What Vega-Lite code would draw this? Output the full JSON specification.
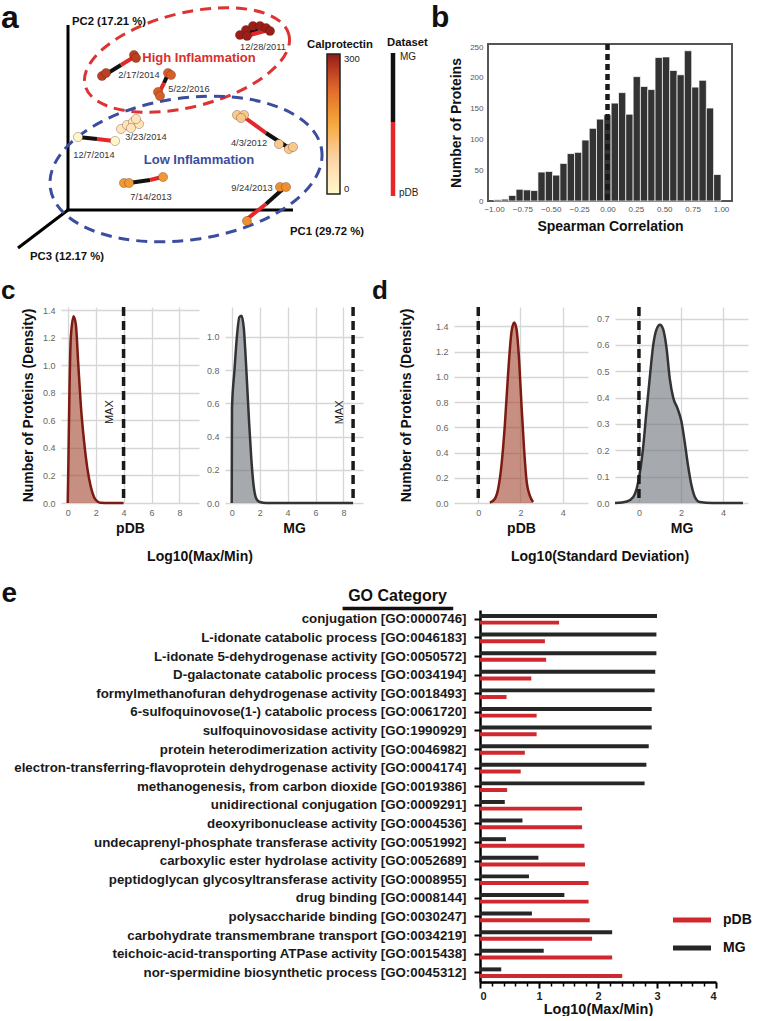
{
"$schema": "https://vega.github.io/schema/vega-lite/v6.json",
"padding": 0,
"background": "white",
"spacing": 15,
"resolve": {"scale": {"color": "independent"}, "legend": {"color": "independent"}},
"config": {"font": "Liberation Sans", "view": {"stroke": null}, "axis": {"labelFont": "Liberation Sans", "titleFont": "Liberation Sans", "titleFontWeight": "bold", "titleColor": "#111", "tickCount": 50, "labelOverlap": false}, "title": {"font": "Liberation Sans", "color": "#111", "fontWeight": "bold"}},
"vconcat": [
{"spacing": 0, "resolve": {"scale": {"color": "independent"}, "legend": {"color": "independent"}}, "hconcat": [
{"width": 430, "height": 262,
 "layer": [
  {"data": {"values": [{"x":68,"y":25,"x2":68,"y2":210},{"x":66.5,"y":210,"x2":293,"y2":210},{"x":68,"y":210,"x2":18,"y2":248}]},
   "mark": {"type":"rule","color":"#000","strokeWidth":3},
   "encoding": {"x":{"field":"x","type":"quantitative","scale":{"domain":[0,430],"nice":false,"zero":false},"axis":null},"y":{"field":"y","type":"quantitative","scale":{"domain":[0,262],"nice":false,"zero":false,"reverse":true},"axis":null},"x2":{"field":"x2"},"y2":{"field":"y2"}}},
  {"data": {"values": [{"grp":"High","x":187,"y":60}]},
   "mark": {"type":"point","shape":"M 1 0 C 1 0.2474 0.5523 0.448 0 0.448 C -0.5523 0.448 -1 0.2474 -1 0 C -1 -0.2474 -0.5523 -0.448 0 -0.448 C 0.5523 -0.448 1 -0.2474 1 0 Z","size":44100,"angle":-14,"filled":false,"color":"#dd3333","strokeWidth":3,"strokeDash":[11,7],"opacity":1},
   "encoding": {"x":{"field":"x","type":"quantitative"},"y":{"field":"y","type":"quantitative"}}},
  {"data": {"values": [{"grp":"Low","x":186,"y":169}]},
   "mark": {"type":"point","shape":"M 1 0 C 1 0.2862 0.5523 0.518 0 0.518 C -0.5523 0.518 -1 0.2862 -1 0 C -1 -0.2862 -0.5523 -0.518 0 -0.518 C 0.5523 -0.518 1 -0.2862 1 0 Z","size":75076,"angle":-8,"filled":false,"color":"#3b4d9f","strokeWidth":3,"strokeDash":[11,7],"opacity":1},
   "encoding": {"x":{"field":"x","type":"quantitative"},"y":{"field":"y","type":"quantitative"}}},
  {"data": {"values": [
    {"s":"12/28/2011","ds":"MG","x":244,"y":33,"x2":258,"y2":29},{"s":"12/28/2011","ds":"pDB","x":250,"y":35,"x2":265,"y2":31},
    {"s":"2/17/2014","ds":"MG","x":108,"y":73,"x2":121,"y2":65},{"s":"2/17/2014","ds":"pDB","x":121,"y":65,"x2":134,"y2":57},
    {"s":"5/22/2016","ds":"MG","x":168,"y":74,"x2":164,"y2":83},{"s":"5/22/2016","ds":"pDB","x":164,"y":83,"x2":159,"y2":93},
    {"s":"3/23/2014","ds":"MG","x":126,"y":127,"x2":131,"y2":126},{"s":"3/23/2014","ds":"pDB","x":131,"y":126,"x2":136,"y2":124},
    {"s":"12/7/2014","ds":"MG","x":78,"y":137,"x2":97,"y2":139},{"s":"12/7/2014","ds":"pDB","x":97,"y":139,"x2":114,"y2":141},
    {"s":"4/3/2012","ds":"pDB","x":244,"y":117,"x2":266,"y2":133},{"s":"4/3/2012","ds":"MG","x":266,"y":133,"x2":289,"y2":148},
    {"s":"7/14/2013","ds":"MG","x":129,"y":183,"x2":150,"y2":180},{"s":"7/14/2013","ds":"pDB","x":150,"y":180,"x2":162,"y2":177},
    {"s":"9/24/2013","ds":"MG","x":284,"y":188,"x2":266,"y2":204},{"s":"9/24/2013","ds":"pDB","x":266,"y":204,"x2":247,"y2":219}]},
   "mark": {"type":"rule","strokeWidth":4},
   "encoding": {"x":{"field":"x","type":"quantitative"},"y":{"field":"y","type":"quantitative"},"x2":{"field":"x2"},"y2":{"field":"y2"},"stroke":{"field":"ds","type":"nominal","scale":{"domain":["MG","pDB"],"range":["#111111","#e5262b"]},"legend":null}}},
  {"data": {"values": [{"ds":"MG","x":393,"y":53,"y2":122},{"ds":"pDB","x":393,"y":122,"y2":196}]},
   "mark": {"type":"rule","strokeWidth":4.5},
   "encoding": {"x":{"field":"x","type":"quantitative"},"y":{"field":"y","type":"quantitative"},"y2":{"field":"y2"},"stroke":{"field":"ds","type":"nominal","legend":null}}},
  {"data": {"values": [
    {"s":"12/28/2011","cal":295,"x":240,"y":35},{"s":"12/28/2011","cal":295,"x":246,"y":30},{"s":"12/28/2011","cal":295,"x":253,"y":26},{"s":"12/28/2011","cal":295,"x":260,"y":26},{"s":"12/28/2011","cal":295,"x":266,"y":28},{"s":"12/28/2011","cal":295,"x":270,"y":31},{"s":"12/28/2011","cal":295,"x":247,"y":36},
    {"s":"2/17/2014","cal":265,"x":102,"y":76},{"s":"2/17/2014","cal":265,"x":106,"y":73},{"s":"2/17/2014","cal":265,"x":134,"y":55},{"s":"2/17/2014","cal":265,"x":136,"y":58},
    {"s":"5/22/2016","cal":235,"x":168,"y":73},{"s":"5/22/2016","cal":235,"x":171,"y":75},{"s":"5/22/2016","cal":235,"x":158,"y":92},{"s":"5/22/2016","cal":235,"x":160,"y":96},
    {"s":"3/23/2014","cal":40,"x":121,"y":129},{"s":"3/23/2014","cal":40,"x":127,"y":125},{"s":"3/23/2014","cal":40,"x":133,"y":122},{"s":"3/23/2014","cal":40,"x":139,"y":124},{"s":"3/23/2014","cal":40,"x":136,"y":119},{"s":"3/23/2014","cal":40,"x":131,"y":128},
    {"s":"12/7/2014","cal":5,"x":78,"y":137},{"s":"12/7/2014","cal":5,"x":115,"y":141},
    {"s":"4/3/2012","cal":95,"x":237,"y":115},{"s":"4/3/2012","cal":95,"x":244,"y":115},{"s":"4/3/2012","cal":95,"x":241,"y":118},{"s":"4/3/2012","cal":95,"x":279,"y":144},{"s":"4/3/2012","cal":95,"x":289,"y":149},{"s":"4/3/2012","cal":95,"x":293,"y":147},
    {"s":"7/14/2013","cal":170,"x":124,"y":183},{"s":"7/14/2013","cal":170,"x":129,"y":183},{"s":"7/14/2013","cal":170,"x":163,"y":177},
    {"s":"9/24/2013","cal":180,"x":280,"y":187},{"s":"9/24/2013","cal":180,"x":286,"y":187},{"s":"9/24/2013","cal":180,"x":247,"y":221}]},
   "mark": {"type":"point","filled":true,"size":85,"opacity":1,"stroke":"#4a1a10","strokeWidth":0.6,"strokeOpacity":0.5},
   "encoding": {"x":{"field":"x","type":"quantitative"},"y":{"field":"y","type":"quantitative"},
     "color":{"field":"cal","type":"quantitative","scale":{"domain":[0,75,150,225,300],"range":["#ffffff","#f9d4a8","#f4a93a","#e06a2c","#951717"]},
       "legend":{"orient":"none","legendX":327,"legendY":54,"direction":"vertical","gradientLength":140,"gradientThickness":13,"title":null,"values":[0,300],"labelFontSize":9.5,"labelColor":"#222","gradientStrokeColor":"#222","gradientStrokeWidth":1.5,"labelOffset":4}}}},
  {"data": {"values": [{"t":"12/28/2011","x":263,"y":47},{"t":"2/17/2014","x":139,"y":75},{"t":"5/22/2016","x":189,"y":89},{"t":"3/23/2014","x":146,"y":137},{"t":"12/7/2014","x":94,"y":155},{"t":"4/3/2012","x":249,"y":143},{"t":"7/14/2013","x":151,"y":197},{"t":"9/24/2013","x":252,"y":188}]},
   "mark": {"type":"text","fontSize":9.3,"color":"#333","align":"center","baseline":"middle"},
   "encoding": {"x":{"field":"x","type":"quantitative"},"y":{"field":"y","type":"quantitative"},"text":{"field":"t"}}},
  {"data": {"values": [{"t":"High Inflammation","x":199,"y":58}]},
   "mark": {"type":"text","fontSize":13,"fontWeight":"bold","align":"center","baseline":"middle","color":"#d9302c"},
   "encoding": {"x":{"field":"x","type":"quantitative"},"y":{"field":"y","type":"quantitative"},"text":{"field":"t"}}},
  {"data": {"values": [{"t":"Low Inflammation","x":199,"y":160}]},
   "mark": {"type":"text","fontSize":13,"fontWeight":"bold","align":"center","baseline":"middle","color":"#3b4d9f"},
   "encoding": {"x":{"field":"x","type":"quantitative"},"y":{"field":"y","type":"quantitative"},"text":{"field":"t"}}},
  {"data": {"values": [{"t":"PC2 (17.21 %)","x":72,"y":22},{"t":"PC1 (29.72 %)","x":290,"y":232},{"t":"PC3 (12.17 %)","x":30,"y":257},{"t":"Calprotectin","x":307,"y":45},{"t":"Dataset","x":387,"y":43}]},
   "mark": {"type":"text","fontSize":11.3,"fontWeight":"bold","align":"left","baseline":"middle","color":"#111"},
   "encoding": {"x":{"field":"x","type":"quantitative"},"y":{"field":"y","type":"quantitative"},"text":{"field":"t"}}},
  {"data": {"values": [{"t":"MG","x":400,"y":57},{"t":"pDB","x":399,"y":193}]},
   "mark": {"type":"text","fontSize":10,"align":"left","baseline":"middle","color":"#222"},
   "encoding": {"x":{"field":"x","type":"quantitative"},"y":{"field":"y","type":"quantitative"},"text":{"field":"t"}}},
  {"data": {"values": [{"t":"a","x":1,"y":28}]},
   "mark": {"type":"text","fontSize":32,"fontWeight":"bold","align":"left","baseline":"alphabetic","color":"#111"},
   "encoding": {"x":{"field":"x","type":"quantitative"},"y":{"field":"y","type":"quantitative"},"text":{"field":"t"}}}
 ]},
{"spacing": 0, "vconcat": [
 {"width": 1, "height": 1, "data": {"values": [{"x": 0}]}, "mark": {"type": "point", "opacity": 0, "size": 0}, "encoding": {"x": {"field": "x", "type": "quantitative", "axis": null}}},
 {"width": 244, "height": 157,
 "title": {"text":"b","anchor":"start","frame":"group","dx":-57,"fontSize":30,"offset":9},
 "view": {"stroke":"#555","strokeWidth":2},
 "data": {"values": [
  {"x0":-1.000,"x1":-0.935,"n":2},{"x0":-0.935,"x1":-0.871,"n":3},{"x0":-0.871,"x1":-0.806,"n":9},{"x0":-0.806,"x1":-0.742,"n":19},{"x0":-0.742,"x1":-0.677,"n":18},{"x0":-0.677,"x1":-0.613,"n":17},{"x0":-0.613,"x1":-0.548,"n":47},{"x0":-0.548,"x1":-0.484,"n":48},{"x0":-0.484,"x1":-0.419,"n":42},{"x0":-0.419,"x1":-0.355,"n":61},{"x0":-0.355,"x1":-0.290,"n":77},{"x0":-0.290,"x1":-0.226,"n":79},{"x0":-0.226,"x1":-0.161,"n":99},{"x0":-0.161,"x1":-0.097,"n":118},{"x0":-0.097,"x1":-0.032,"n":133},{"x0":-0.032,"x1":0.032,"n":140},{"x0":0.032,"x1":0.097,"n":159},{"x0":0.097,"x1":0.161,"n":176},{"x0":0.161,"x1":0.226,"n":141},{"x0":0.226,"x1":0.290,"n":202},{"x0":0.290,"x1":0.355,"n":186},{"x0":0.355,"x1":0.419,"n":181},{"x0":0.419,"x1":0.484,"n":233},{"x0":0.484,"x1":0.548,"n":234},{"x0":0.548,"x1":0.613,"n":212},{"x0":0.613,"x1":0.677,"n":205},{"x0":0.677,"x1":0.742,"n":244},{"x0":0.742,"x1":0.806,"n":185},{"x0":0.806,"x1":0.871,"n":196},{"x0":0.871,"x1":0.935,"n":151},{"x0":0.935,"x1":1.000,"n":43}]},
 "layer": [
  {"mark": {"type":"bar","color":"#333333","stroke":"#ffffff","strokeWidth":0.7},
   "encoding": {"x":{"field":"x0","type":"quantitative","scale":{"domain":[-1.053,1.097],"nice":false,"zero":false},"axis":{"title":"Spearman Correlation","values":[-1,-0.75,-0.5,-0.25,0,0.25,0.5,0.75,1],"format":".2f","grid":false,"domain":false,"ticks":false,"labelFontSize":8,"labelColor":"#555","labelPadding":4,"titleFontSize":14,"titlePadding":6}},
     "x2":{"field":"x1"},
     "y":{"field":"n","type":"quantitative","scale":{"domain":[0,255],"nice":false},"axis":{"title":"Number of Proteins","values":[0,50,100,150,200,250],"format":"d","grid":false,"domain":false,"ticks":false,"labelFontSize":8,"labelColor":"#555","labelPadding":5,"titleFontSize":14,"titlePadding":6}},
     "y2":{"datum":0}}},
  {"data": {"values": [{"x":0}]},
   "mark": {"type":"rule","color":"#1a1a1a","strokeWidth":4.5,"strokeDash":[6,4]},
   "encoding": {"x":{"field":"x","type":"quantitative"}}}
 ]}]}
]},
{"spacing": 0, "hconcat": [
 {"width": 1, "height": 1, "data": {"values": [{"x": 0}]}, "mark": {"type": "point", "opacity": 0, "size": 0}, "encoding": {"x": {"field": "x", "type": "quantitative", "axis": null}}},
 {"spacing": 9, "hconcat": [
 {"spacing": 7, "title": {"text":"Log10(Max/Min)","orient":"bottom","fontSize":14,"anchor":"middle","dx":18,"offset":15},
  "hconcat": [
  {"width": 138, "height": 196,
   "title": {"text":"c","anchor":"start","frame":"group","dx":-60,"fontSize":26,"offset":1},
   "data": {"values": [{"x":0,"y":0},{"x":0.05,"y":0.3},{"x":0.12,"y":0.78},{"x":0.22,"y":1.2},{"x":0.42,"y":1.356},{"x":0.59,"y":1.29},{"x":0.75,"y":1.02},{"x":0.94,"y":0.71},{"x":1.18,"y":0.44},{"x":1.41,"y":0.25},{"x":1.65,"y":0.12},{"x":1.88,"y":0.044},{"x":2.12,"y":0.012},{"x":2.36,"y":0.002},{"x":3.0,"y":0},{"x":4.0,"y":0}]},
   "layer": [
    {"mark": {"type":"area","color":"#a0452e","opacity":0.6,"interpolate":"monotone"},
     "encoding": {"x":{"field":"x","type":"quantitative","scale":{"domain":[-0.48,9.4],"nice":false,"zero":false},"axis":{"title":"pDB","values":[0,2,4,6,8],"format":"d","grid":true,"gridColor":"#d6d6d6","gridWidth":1.3,"domain":false,"ticks":false,"labelFontSize":9,"labelColor":"#666","labelPadding":5,"titleFontSize":14,"titlePadding":4}},
      "y":{"field":"y","type":"quantitative","scale":{"domain":[0,1.424],"nice":false},"axis":{"title":"Number of Proteins (Density)","values":[0,0.2,0.4,0.6,0.8,1.0,1.2,1.4],"format":".1f","grid":true,"gridColor":"#d6d6d6","gridWidth":1.3,"domain":false,"ticks":false,"labelFontSize":9,"labelColor":"#666","labelPadding":6,"titleFontSize":14,"titlePadding":7}}}},
    {"mark": {"type":"line","color":"#7d1a12","strokeWidth":2.5,"interpolate":"monotone"},
     "encoding": {"x":{"field":"x","type":"quantitative"},"y":{"field":"y","type":"quantitative"}}},
    {"data": {"values": [{"x":4}]}, "mark": {"type":"rule","color":"#1a1a1a","strokeWidth":3.5,"strokeDash":[9,5]}, "encoding": {"x":{"field":"x","type":"quantitative"}}},
    {"data": {"values": [{"x":3.06,"y":0.66,"t":"MAX"}]}, "mark": {"type":"text","angle":270,"fontSize":11,"color":"#222","align":"center","baseline":"middle"}, "encoding": {"x":{"field":"x","type":"quantitative"},"y":{"field":"y","type":"quantitative"},"text":{"field":"t"}}}
   ]},
  {"width": 138, "height": 196,
   "data": {"values": [{"x":0,"y":0},{"x":0.02,"y":0.57},{"x":0.19,"y":0.79},{"x":0.36,"y":0.99},{"x":0.55,"y":1.12},{"x":0.7,"y":1.127},{"x":0.87,"y":1.05},{"x":1.03,"y":0.83},{"x":1.23,"y":0.51},{"x":1.4,"y":0.27},{"x":1.56,"y":0.11},{"x":1.76,"y":0.026},{"x":2.0,"y":0.006},{"x":2.5,"y":0},{"x":8.69,"y":0}]},
   "layer": [
    {"mark": {"type":"area","color":"#6b7278","opacity":0.6,"interpolate":"monotone"},
     "encoding": {"x":{"field":"x","type":"quantitative","scale":{"domain":[-0.48,9.4],"nice":false,"zero":false},"axis":{"title":"MG","values":[0,2,4,6,8],"format":"d","grid":true,"gridColor":"#d6d6d6","gridWidth":1.3,"domain":false,"ticks":false,"labelFontSize":9,"labelColor":"#666","labelPadding":5,"titleFontSize":14,"titlePadding":4}},
      "y":{"field":"y","type":"quantitative","scale":{"domain":[0,1.18],"nice":false},"axis":{"title":null,"values":[0,0.2,0.4,0.6,0.8,1.0],"format":".1f","grid":true,"gridColor":"#d6d6d6","gridWidth":1.3,"domain":false,"ticks":false,"labelFontSize":9,"labelColor":"#666","labelPadding":6}}}},
    {"mark": {"type":"line","color":"#333333","strokeWidth":2.5,"interpolate":"monotone"},
     "encoding": {"x":{"field":"x","type":"quantitative"},"y":{"field":"y","type":"quantitative"}}},
    {"data": {"values": [{"x":8.69}]}, "mark": {"type":"rule","color":"#1a1a1a","strokeWidth":3.5,"strokeDash":[9,5]}, "encoding": {"x":{"field":"x","type":"quantitative"}}},
    {"data": {"values": [{"x":7.78,"y":0.546,"t":"MAX"}]}, "mark": {"type":"text","angle":270,"fontSize":11,"color":"#222","align":"center","baseline":"middle"}, "encoding": {"x":{"field":"x","type":"quantitative"},"y":{"field":"y","type":"quantitative"},"text":{"field":"t"}}}
   ]}
 ]},
 {"spacing": 8, "title": {"text":"Log10(Standard Deviation)","orient":"bottom","fontSize":14,"anchor":"middle","dx":40,"offset":15},
  "hconcat": [
  {"width": 134, "height": 196,
   "title": {"text":"d","anchor":"start","frame":"group","dx":-82,"fontSize":26,"offset":1},
   "data": {"values": [{"x":0.55,"y":0.003},{"x":0.79,"y":0.034},{"x":0.94,"y":0.11},{"x":1.10,"y":0.30},{"x":1.26,"y":0.62},{"x":1.42,"y":1.04},{"x":1.57,"y":1.35},{"x":1.70,"y":1.43},{"x":1.81,"y":1.38},{"x":1.94,"y":1.12},{"x":2.05,"y":0.77},{"x":2.17,"y":0.43},{"x":2.28,"y":0.19},{"x":2.44,"y":0.06},{"x":2.60,"y":0.008}]},
   "layer": [
    {"mark": {"type":"area","color":"#a0452e","opacity":0.6,"interpolate":"monotone"},
     "encoding": {"x":{"field":"x","type":"quantitative","scale":{"domain":[-1.15,5.2],"nice":false,"zero":false},"axis":{"title":"pDB","values":[0,2,4],"format":"d","grid":true,"gridColor":"#d6d6d6","gridWidth":1.3,"domain":false,"ticks":false,"labelFontSize":9,"labelColor":"#666","labelPadding":5,"titleFontSize":14,"titlePadding":4}},
      "y":{"field":"y","type":"quantitative","scale":{"domain":[0,1.553],"nice":false},"axis":{"title":"Number of Proteins (Density)","values":[0,0.2,0.4,0.6,0.8,1.0,1.2,1.4],"format":".1f","grid":true,"gridColor":"#d6d6d6","gridWidth":1.3,"domain":false,"ticks":false,"labelFontSize":9,"labelColor":"#666","labelPadding":6,"titleFontSize":14,"titlePadding":22}}}},
    {"mark": {"type":"line","color":"#7d1a12","strokeWidth":2.5,"interpolate":"monotone"},
     "encoding": {"x":{"field":"x","type":"quantitative"},"y":{"field":"y","type":"quantitative"}}},
    {"data": {"values": [{"x":0}]}, "mark": {"type":"rule","color":"#1a1a1a","strokeWidth":3.5,"strokeDash":[9,5]}, "encoding": {"x":{"field":"x","type":"quantitative"}}}
   ]},
  {"width": 133, "height": 196,
   "data": {"values": [{"x":-1.14,"y":0},{"x":-0.58,"y":0.006},{"x":-0.27,"y":0.023},{"x":-0.11,"y":0.054},{"x":0.05,"y":0.118},{"x":0.21,"y":0.22},{"x":0.36,"y":0.35},{"x":0.52,"y":0.48},{"x":0.68,"y":0.60},{"x":0.84,"y":0.66},{"x":1.0,"y":0.677},{"x":1.15,"y":0.66},{"x":1.31,"y":0.59},{"x":1.47,"y":0.47},{"x":1.63,"y":0.40},{"x":1.83,"y":0.36},{"x":2.02,"y":0.31},{"x":2.18,"y":0.23},{"x":2.34,"y":0.14},{"x":2.50,"y":0.067},{"x":2.66,"y":0.023},{"x":2.89,"y":0.004},{"x":3.5,"y":0},{"x":4.95,"y":0}]},
   "layer": [
    {"mark": {"type":"area","color":"#6b7278","opacity":0.6,"interpolate":"monotone"},
     "encoding": {"x":{"field":"x","type":"quantitative","scale":{"domain":[-1.14,5.19],"nice":false,"zero":false},"axis":{"title":"MG","values":[0,2,4],"format":"d","grid":true,"gridColor":"#d6d6d6","gridWidth":1.3,"domain":false,"ticks":false,"labelFontSize":9,"labelColor":"#666","labelPadding":5,"titleFontSize":14,"titlePadding":4}},
      "y":{"field":"y","type":"quantitative","scale":{"domain":[0,0.744],"nice":false},"axis":{"title":null,"values":[0,0.1,0.2,0.3,0.4,0.5,0.6,0.7],"format":".1f","grid":true,"gridColor":"#d6d6d6","gridWidth":1.3,"domain":false,"ticks":false,"labelFontSize":9,"labelColor":"#666","labelPadding":6}}}},
    {"mark": {"type":"line","color":"#333333","strokeWidth":2.5,"interpolate":"monotone"},
     "encoding": {"x":{"field":"x","type":"quantitative"},"y":{"field":"y","type":"quantitative"}}},
    {"data": {"values": [{"x":0}]}, "mark": {"type":"rule","color":"#1a1a1a","strokeWidth":3.5,"strokeDash":[9,5]}, "encoding": {"x":{"field":"x","type":"quantitative"}}}
   ]}
 ]}
]}]},
{"spacing": 0, "resolve": {"scale": {"color": "independent"}, "legend": {"color": "independent"}}, "hconcat": [
 {"width": 1, "height": 1, "data": {"values": [{"x": 0}]}, "mark": {"type": "point", "opacity": 0, "size": 0}, "encoding": {"x": {"field": "x", "type": "quantitative", "axis": null}}},
 {"width": 236, "height": 372,
 "data": {"values": [
  {"go":"conjugation [GO:0000746]","ds":"MG","v":3.00},{"go":"conjugation [GO:0000746]","ds":"pDB","v":1.34},
  {"go":"L-idonate catabolic process [GO:0046183]","ds":"MG","v":2.99},{"go":"L-idonate catabolic process [GO:0046183]","ds":"pDB","v":1.10},
  {"go":"L-idonate 5-dehydrogenase activity [GO:0050572]","ds":"MG","v":2.99},{"go":"L-idonate 5-dehydrogenase activity [GO:0050572]","ds":"pDB","v":1.12},
  {"go":"D-galactonate catabolic process [GO:0034194]","ds":"MG","v":2.97},{"go":"D-galactonate catabolic process [GO:0034194]","ds":"pDB","v":0.87},
  {"go":"formylmethanofuran dehydrogenase activity [GO:0018493]","ds":"MG","v":2.96},{"go":"formylmethanofuran dehydrogenase activity [GO:0018493]","ds":"pDB","v":0.45},
  {"go":"6-sulfoquinovose(1-) catabolic process [GO:0061720]","ds":"MG","v":2.91},{"go":"6-sulfoquinovose(1-) catabolic process [GO:0061720]","ds":"pDB","v":0.96},
  {"go":"sulfoquinovosidase activity [GO:1990929]","ds":"MG","v":2.91},{"go":"sulfoquinovosidase activity [GO:1990929]","ds":"pDB","v":0.96},
  {"go":"protein heterodimerization activity [GO:0046982]","ds":"MG","v":2.86},{"go":"protein heterodimerization activity [GO:0046982]","ds":"pDB","v":0.76},
  {"go":"electron-transferring-flavoprotein dehydrogenase activity [GO:0004174]","ds":"MG","v":2.82},{"go":"electron-transferring-flavoprotein dehydrogenase activity [GO:0004174]","ds":"pDB","v":0.69},
  {"go":"methanogenesis, from carbon dioxide [GO:0019386]","ds":"MG","v":2.79},{"go":"methanogenesis, from carbon dioxide [GO:0019386]","ds":"pDB","v":0.46},
  {"go":"unidirectional conjugation [GO:0009291]","ds":"MG","v":0.42},{"go":"unidirectional conjugation [GO:0009291]","ds":"pDB","v":1.73},
  {"go":"deoxyribonuclease activity [GO:0004536]","ds":"MG","v":0.72},{"go":"deoxyribonuclease activity [GO:0004536]","ds":"pDB","v":1.73},
  {"go":"undecaprenyl-phosphate transferase activity [GO:0051992]","ds":"MG","v":0.44},{"go":"undecaprenyl-phosphate transferase activity [GO:0051992]","ds":"pDB","v":1.77},
  {"go":"carboxylic ester hydrolase activity [GO:0052689]","ds":"MG","v":0.99},{"go":"carboxylic ester hydrolase activity [GO:0052689]","ds":"pDB","v":1.78},
  {"go":"peptidoglycan glycosyltransferase activity [GO:0008955]","ds":"MG","v":0.83},{"go":"peptidoglycan glycosyltransferase activity [GO:0008955]","ds":"pDB","v":1.84},
  {"go":"drug binding [GO:0008144]","ds":"MG","v":1.43},{"go":"drug binding [GO:0008144]","ds":"pDB","v":1.84},
  {"go":"polysaccharide binding [GO:0030247]","ds":"MG","v":0.88},{"go":"polysaccharide binding [GO:0030247]","ds":"pDB","v":1.86},
  {"go":"carbohydrate transmembrane transport [GO:0034219]","ds":"MG","v":2.24},{"go":"carbohydrate transmembrane transport [GO:0034219]","ds":"pDB","v":1.90},
  {"go":"teichoic-acid-transporting ATPase activity [GO:0015438]","ds":"MG","v":1.08},{"go":"teichoic-acid-transporting ATPase activity [GO:0015438]","ds":"pDB","v":2.24},
  {"go":"nor-spermidine biosynthetic process [GO:0045312]","ds":"MG","v":0.36},{"go":"nor-spermidine biosynthetic process [GO:0045312]","ds":"pDB","v":2.41}]},
 "layer": [
  {"mark": {"type":"bar"},
   "encoding": {
    "y":{"field":"go","type":"nominal","sort":null,"scale":{"paddingInner":0,"paddingOuter":0},"axis":{"title":"e","titleX":-479,"titleY":-17,"titleAngle":0,"titleAlign":"left","titleBaseline":"middle","titleFontSize":28,"titleFontWeight":"bold","titleColor":"#111","labelFontSize":13.3,"labelFontWeight":"bold","labelColor":"#1a1a1a","labelLimit":0,"labelPadding":8,"ticks":true,"tickSize":6,"tickWidth":2,"tickColor":"#000","domain":true,"domainWidth":2.5,"domainColor":"#000","grid":false}},
    "yOffset":{"field":"ds","type":"nominal","sort":["MG","pDB"],"scale":{"paddingInner":0.4,"paddingOuter":0.6}},
    "x":{"field":"v","type":"quantitative","scale":{"domain":[0,4],"nice":false},"axis":{"title":"Log10(Max/Min)","values":[0,1,2,3,4],"format":"d","grid":false,"domain":true,"domainWidth":2.5,"domainColor":"#000","ticks":true,"tickSize":6,"tickWidth":2,"tickColor":"#000","labelFontSize":11,"labelFontWeight":"bold","labelColor":"#222","labelPadding":2,"titleFontSize":14.5,"titlePadding":1}},
    "color":{"field":"ds","type":"nominal","scale":{"domain":["pDB","MG"],"range":["#d0282f","#262626"]},
      "legend":{"orient":"none","legendX":193,"legendY":291,"title":null,"symbolType":"M -1 -0.13 L 1 -0.13 L 1 0.13 L -1 0.13 Z","symbolSize":1444,"symbolStrokeWidth":0,"labelFontSize":14,"labelFontWeight":"bold","labelColor":"#111","labelOffset":12,"rowPadding":2}}}},
  {"mark": {"type":"rule","opacity":0},
   "encoding": {"x":{"field":"v","type":"quantitative","scale":{"domain":[0,4],"nice":false},"axis":{"orient":"bottom","title":["GO Category","━━━━━━━━━━━"],"titleX":-83,"titleY":-382,"titleAlign":"center","titleBaseline":"alphabetic","titleAngle":0,"titleFontSize":16,"titleLineHeight":13,"titleColor":"#111","values":[0.2,0.4,0.6,0.8,1.2,1.4,1.6,1.8,2.2,2.4,2.6,2.8,3.2,3.4,3.6,3.8],"labels":false,"domain":false,"grid":false,"ticks":true,"tickSize":4,"tickWidth":1.5,"tickColor":"#000"}}}}
 ],
 "resolve": {"scale":{"x":"independent"},"axis":{"x":"independent"}}}]}
]
}
